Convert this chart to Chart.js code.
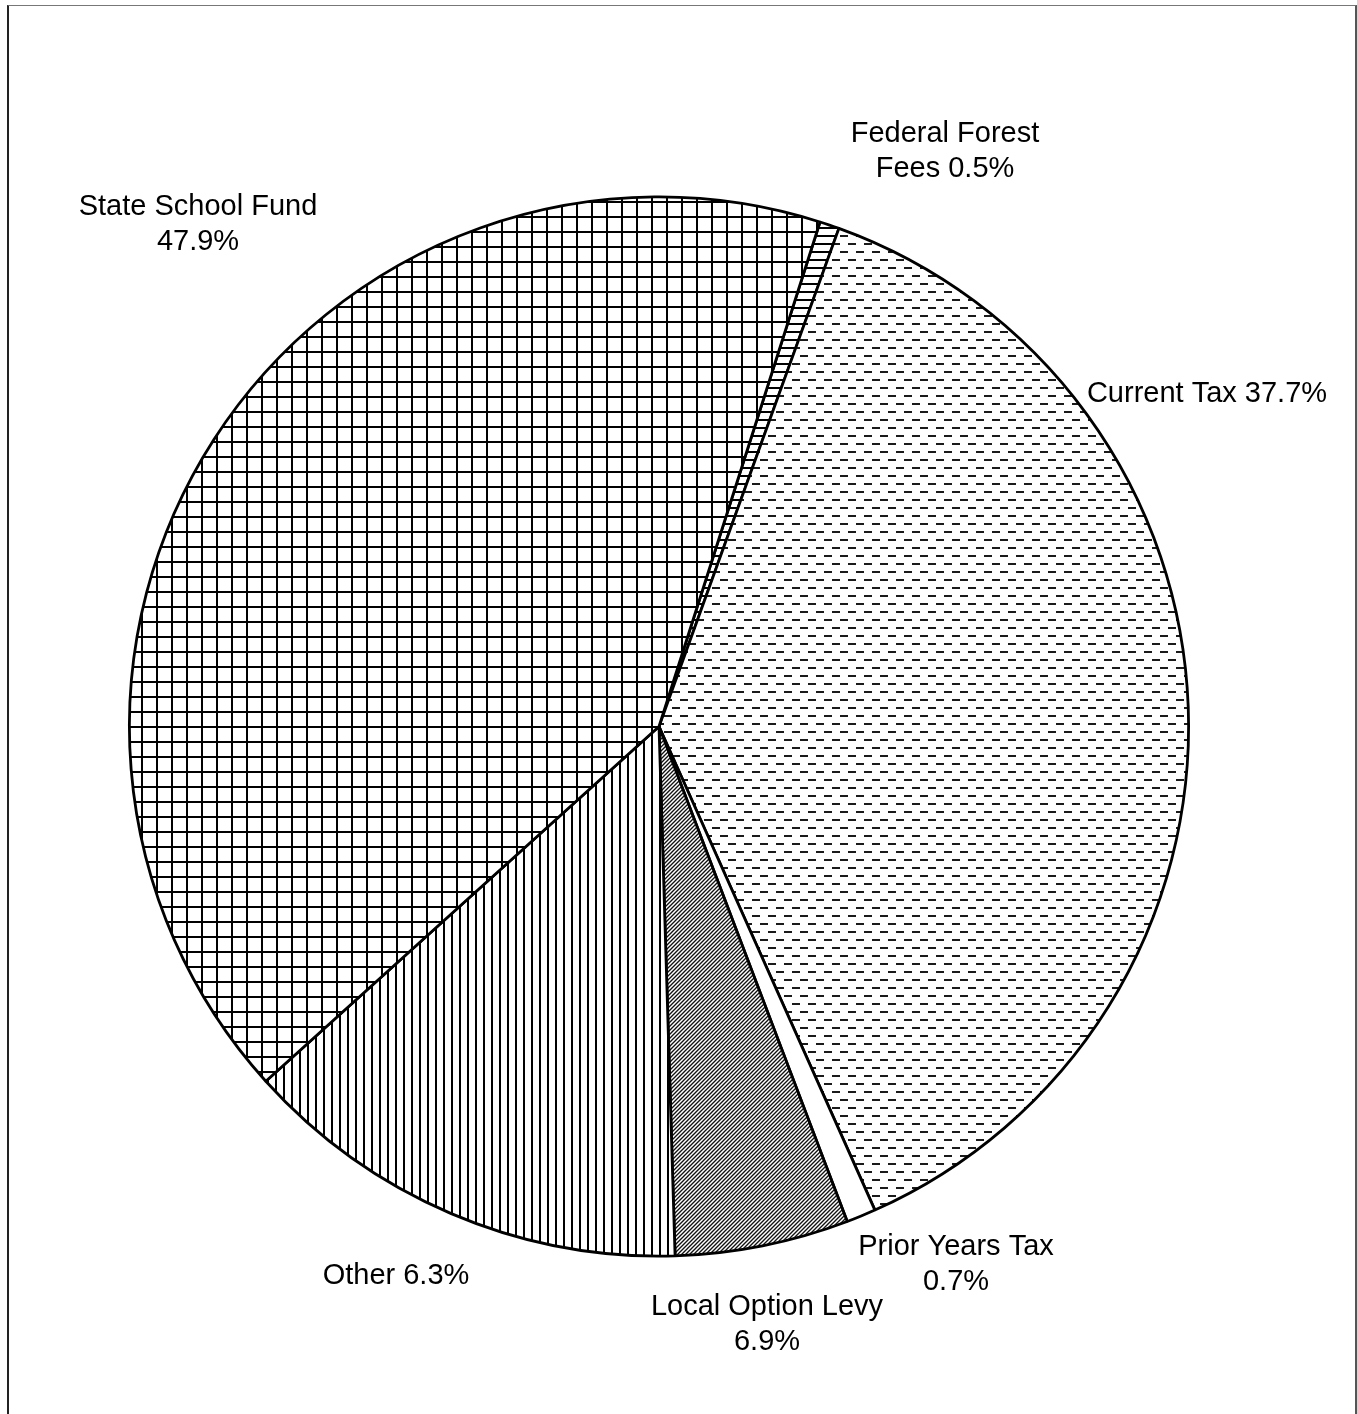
<!DOCTYPE html>
<html>
<head>
<meta charset="utf-8">
<script src="https://cdn.jsdelivr.net/npm/chart.js@4/dist/chart.umd.min.js"></script>
<style>
  html, body { margin: 0; padding: 0; background: #fff; }
  #wrap { position: relative; width: 1357px; height: 1414px; }
  #frame {
    position: absolute; left: 7px; top: 5px; width: 1346px; height: 1420px;
    border-left: 2px solid #222; border-top: 1px solid #777; border-right: 2px solid #555;
  }
  canvas { position: absolute; left: 0; top: 0; }
</style>
</head>
<body>
<div id="wrap">
  <div id="frame"></div>
  <canvas id="chart" width="1357" height="1414"></canvas>
</div>
<script>
// slices, clockwise from Federal Forest Fees
const categories = ['Federal Forest Fees', 'Current Tax', 'Prior Years Tax', 'Local Option Levy', 'Other', 'State School Fund'];
// slice sizes as drawn in the picture
const values = [0.6, 37.8, 0.9, 5.3, 13.8, 41.6];
// percentages as printed on the labels
const printedPercents = ['0.5%', '37.7%', '0.7%', '6.9%', '6.3%', '47.9%'];

// where each label sits and how many words go on the first line
const labelLayout = [
  { x: 945, y: 134, words: 2 },
  { x: 1207, y: 394, words: 99 },
  { x: 956, y: 1247, words: 3 },
  { x: 767, y: 1307, words: 3 },
  { x: 396, y: 1276, words: 99 },
  { x: 198, y: 207, words: 3 }
];

function makePattern(w, h, draw) {
  const c = document.createElement('canvas');
  c.width = w; c.height = h;
  const g = c.getContext('2d');
  g.fillStyle = '#fff';
  g.fillRect(0, 0, w, h);
  g.fillStyle = '#000';
  g.strokeStyle = '#000';
  draw(g);
  return document.getElementById('chart').getContext('2d').createPattern(c, 'repeat');
}

const horizLines = makePattern(8, 8, g => g.fillRect(0, 3, 8, 2));
const dashes = makePattern(16, 16, g => {
  g.fillStyle = '#1a1a1a';
  g.fillRect(0, 3, 8, 2);
  g.fillRect(8, 11, 8, 2);
});
const white = '#fff';
const diagonal = makePattern(4, 4, g => {
  g.lineWidth = 1.35;
  g.strokeStyle = '#111';
  g.beginPath();
  g.moveTo(-1, 5); g.lineTo(5, -1);
  g.moveTo(-1, 1); g.lineTo(1, -1);
  g.moveTo(3, 5); g.lineTo(5, 3);
  g.stroke();
});
const vertLines = makePattern(8, 8, g => g.fillRect(3, 0, 2, 8));
const grid = makePattern(15, 15, g => {
  g.fillRect(6, 0, 2, 15);
  g.fillRect(0, 6, 15, 2);
});

const fills = [horizLines, dashes, white, diagonal, vertLines, grid];

const pieLabels = {
  id: 'pieLabels',
  afterDraw(chart) {
    const ctx = chart.ctx;
    ctx.save();
    ctx.font = '29px "Liberation Sans", Arial, sans-serif';
    ctx.fillStyle = '#000';
    ctx.textAlign = 'center';
    ctx.textBaseline = 'middle';
    categories.forEach((cat, i) => {
      const words = (cat + ' ' + printedPercents[i]).split(' ');
      const pos = labelLayout[i];
      const lines = [words.slice(0, pos.words).join(' ')];
      if (words.length > pos.words) lines.push(words.slice(pos.words).join(' '));
      lines.forEach((ln, k) => ctx.fillText(ln, pos.x, pos.y + k * 35));
    });
    ctx.restore();
  }
};

new Chart(document.getElementById('chart'), {
  type: 'pie',
  data: {
    labels: categories,
    datasets: [{
      data: values,
      backgroundColor: fills,
      borderColor: '#000',
      borderWidth: 2.8
    }]
  },
  options: {
    responsive: false,
    animation: false,
    rotation: 17.7,
    layout: { padding: { left: 128, right: 167, top: 195, bottom: 156 } },
    plugins: {
      legend: { display: false },
      tooltip: { enabled: false }
    }
  },
  plugins: [pieLabels]
});
</script>
</body>
</html>
